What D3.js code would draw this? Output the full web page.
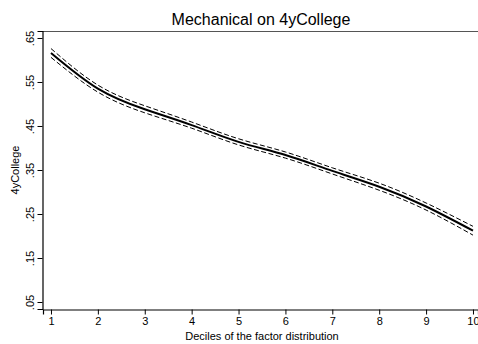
<!DOCTYPE html>
<html>
<head>
<meta charset="utf-8">
<script src="https://cdn.jsdelivr.net/npm/d3@7"></script>
<style>
  body { margin: 0; background: #fff; }
  text { font-family: "Liberation Sans", Arial, sans-serif; fill: #000; }
</style>
</head>
<body>
<div class="canvas"></div>
<script>
// deciles and estimates
const deciles = [1, 2, 3, 4, 5, 6, 7, 8, 9, 10];
const estimate = [0.616, 0.535, 0.488, 0.452, 0.414, 0.384, 0.348, 0.312, 0.267, 0.212];
const upper = [0.626, 0.543, 0.496, 0.459, 0.421, 0.391, 0.355, 0.320, 0.275, 0.222];
const lower = [0.606, 0.527, 0.480, 0.445, 0.407, 0.377, 0.341, 0.304, 0.259, 0.202];
const yTicks = [0.05, 0.15, 0.25, 0.35, 0.45, 0.55, 0.65];

// chart dimensions
const dims = { width: 478, height: 344 };
const margin = { top: 31, right: 0, bottom: 35, left: 43 };

const svg = d3.select('.canvas')
  .append('svg')
  .attr('width', dims.width)
  .attr('height', dims.height);

const x = d3.scaleLinear()
  .domain([0.83, 10.107])
  .range([margin.left, dims.width - margin.right]);

const y = d3.scaleLinear()
  .domain([0.0341, 0.6659])
  .range([dims.height - margin.bottom, margin.top]);

// top outline of the plot region
svg.append('line')
  .attr('x1', margin.left).attr('x2', dims.width)
  .attr('y1', margin.top + 0.5).attr('y2', margin.top + 0.5)
  .attr('stroke', '#555').attr('stroke-width', 1);

// axes
const xAxis = svg.append('g')
  .attr('transform', `translate(0, ${dims.height - margin.bottom + 0.5})`)
  .call(d3.axisBottom(x).tickValues(deciles).tickSize(5).tickPadding(3).tickFormat(d3.format('d')));

const yAxis = svg.append('g')
  .attr('transform', `translate(${margin.left - 0.5}, 0)`)
  .call(d3.axisLeft(y).tickValues(yTicks).tickSize(5).tickFormat(d => d3.format('.2f')(d).replace(/^0/, '')));

[xAxis, yAxis].forEach(g => {
  g.select('.domain').attr('stroke', '#000').attr('stroke-width', 1.2);
  g.selectAll('.tick line').attr('stroke', '#000');
  g.selectAll('text').attr('font-size', 11)
    .attr('font-family', '"Liberation Sans", Arial, sans-serif');
});

// rotate y tick labels like Stata does
yAxis.selectAll('.tick text')
  .attr('x', 0).attr('dy', 0)
  .attr('text-anchor', 'middle')
  .attr('transform', 'translate(-9, 0) rotate(-90)');

// lines
const line = vals => d3.line()
  .x((d, i) => x(deciles[i]))
  .y(d => y(d))
  .curve(d3.curveNatural)(vals);

[upper, lower].forEach(band => {
  svg.append('path')
    .attr('d', line(band))
    .attr('fill', 'none')
    .attr('stroke', '#000')
    .attr('stroke-width', 1)
    .attr('stroke-dasharray', '5,2.5');
});

svg.append('path')
  .attr('d', line(estimate))
  .attr('fill', 'none')
  .attr('stroke', '#000')
  .attr('stroke-width', 2);

// titles
svg.append('text')
  .attr('x', 261).attr('y', 25)
  .attr('text-anchor', 'middle')
  .attr('font-size', 16)
  .text('Mechanical on 4yCollege');

svg.append('text')
  .attr('x', 262).attr('y', 340)
  .attr('text-anchor', 'middle')
  .attr('font-size', 11)
  .text('Deciles of the factor distribution');

svg.append('text')
  .attr('transform', `translate(19, ${(margin.top + dims.height - margin.bottom) / 2}) rotate(-90)`)
  .attr('text-anchor', 'middle')
  .attr('font-size', 11)
  .text('4yCollege');
</script>
</body>
</html>
